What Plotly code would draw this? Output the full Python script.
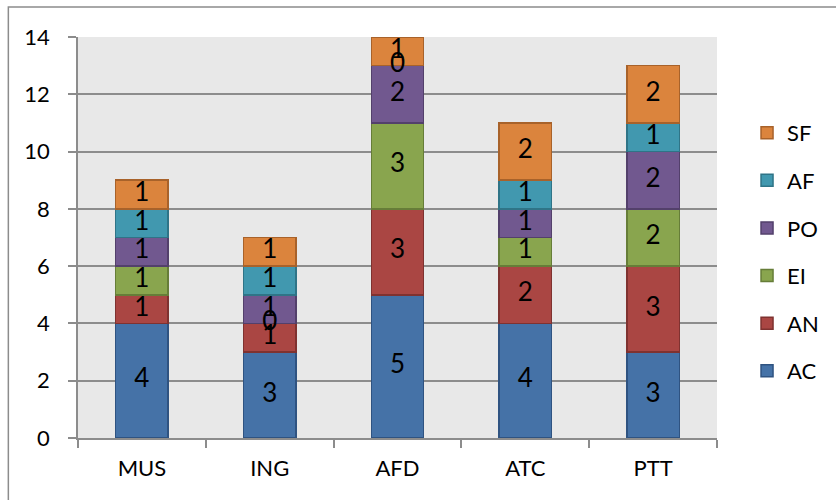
import plotly.graph_objects as go

categories = ["MUS", "ING", "AFD", "ATC", "PTT"]

series_names = ["AC", "AN", "EI", "PO", "AF", "SF"]
ac = [4, 3, 5, 4, 3]
an = [1, 1, 3, 2, 3]
ei = [1, 0, 3, 1, 2]
po = [1, 1, 2, 1, 2]
af = [1, 1, 0, 1, 1]
sf = [1, 1, 1, 2, 2]
series_values = [ac, an, ei, po, af, sf]

fill_colors = ["#4572A7", "#AA4643", "#89A54E", "#71588F", "#4198AF", "#DB843D"]
edge_colors = ["#2F5381", "#7F3230", "#667D38", "#53406B", "#2F7487", "#A8622A"]

FONT = "Lato, 'Liberation Sans', Arial, sans-serif"
GRID = "#8c8c8c"

fig = go.Figure()

# stacked segments; legend lists the top segment first
n = len(series_names)
for i, (name, vals, fc, ec) in enumerate(zip(series_names, series_values, fill_colors, edge_colors)):
    fig.add_trace(go.Bar(
        x=categories, y=vals, name=name, legendgroup=name, legendrank=n - i,
        marker=dict(color=fc, line=dict(color=ec, width=1.5)),
        width=0.41,
    ))

# value labels centred in each segment (zero segments sit on the boundary)
base = [0] * len(categories)
for name, vals in zip(series_names, series_values):
    mids = [b + v / 2 for b, v in zip(base, vals)]
    fig.add_trace(go.Scatter(
        x=categories, y=mids, mode="text", text=[str(v) for v in vals],
        textposition="middle center",
        textfont=dict(family=FONT, size=26, color="black"),
        showlegend=False, hoverinfo="skip", cliponaxis=False,
    ))
    base = [b + v for b, v in zip(base, vals)]

fig.update_layout(
    width=836, height=500,
    margin=dict(l=78, r=116, t=37, b=62),
    barmode="stack",
    paper_bgcolor="white",
    plot_bgcolor="#e8e8e8",
    font=dict(family=FONT, size=22, color="black"),
    legend=dict(
        x=1.047, xanchor="left", y=0.464, yanchor="middle",
        traceorder="grouped", tracegroupgap=16,
        itemwidth=30, font=dict(size=22), bgcolor="rgba(0,0,0,0)",
    ),
    shapes=[dict(
        type="rect", xref="paper", yref="paper",
        x0=-0.109, x1=1.6, y0=-0.6, y1=1.0748,
        line=dict(color=GRID, width=1.5), layer="below",
    )],
)

fig.update_yaxes(
    range=[0, 14], dtick=2, showgrid=True, gridcolor=GRID, gridwidth=1.5,
    zeroline=False, showline=True, linecolor=GRID, linewidth=1.5,
    ticks="outside", ticklen=8, tickcolor=GRID, tickwidth=1.5,
    ticklabelstandoff=14, tickfont=dict(size=22),
)
fig.update_xaxes(
    showline=True, linecolor=GRID, linewidth=1.5,
    ticks="outside", tickson="boundaries", ticklen=8, tickcolor=GRID, tickwidth=1.5,
    ticklabelstandoff=10, tickfont=dict(size=22),
)

fig.write_html("out.html")
